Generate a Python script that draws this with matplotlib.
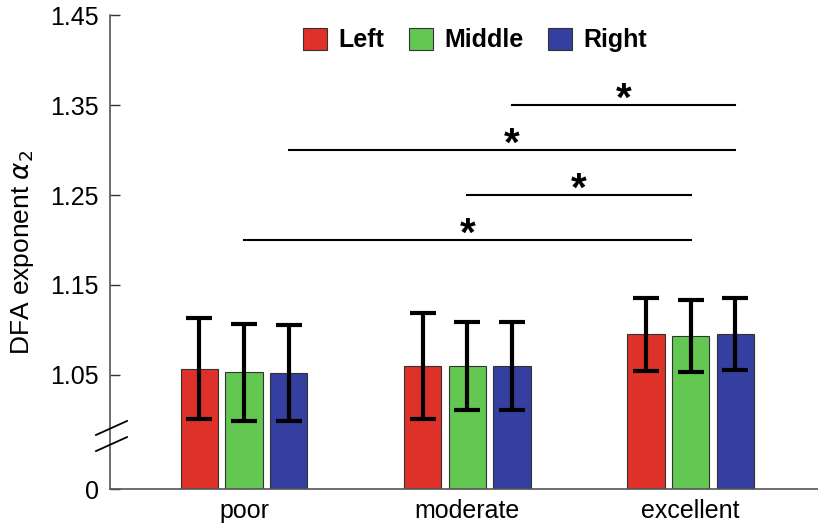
import numpy as np
import matplotlib.pyplot as plt

plt.rcParams['font.family'] = ['Liberation Sans', 'DejaVu Sans']

groups = ["poor", "moderate", "excellent"]
series = ["Left", "Middle", "Right"]
colors = ["#DE3129", "#62C851", "#343F9F"]

means = {
    "Left":   [1.057, 1.060, 1.095],
    "Middle": [1.053, 1.060, 1.093],
    "Right":  [1.052, 1.060, 1.095],
}
errs = {
    "Left":   [0.056, 0.059, 0.041],
    "Middle": [0.054, 0.049, 0.040],
    "Right":  [0.053, 0.049, 0.040],
}

# significance brackets: (group, series) -> (group, series), height
sig_pairs = [
    ((1, 2), (2, 2), 1.35),
    ((0, 2), (2, 2), 1.30),
    ((1, 1), (2, 1), 1.25),
    ((0, 1), (2, 1), 1.20),
]

y_bottom = 0.9233  # where the broken axis shows "0"
yticks = [1.05, 1.15, 1.25, 1.35, 1.45]

fig = plt.figure(figsize=(8.18, 5.29), dpi=100)
ax = fig.add_axes([0.1345, 0.0756, 0.8655, 0.896])

x = np.arange(1, len(groups) + 1)
width = 0.166
offsets = [-0.2, 0.0, 0.2]

for s, off, c in zip(series, offsets, colors):
    heights = np.array(means[s]) - y_bottom
    ax.bar(x + off, heights, width, bottom=y_bottom, color=c,
           edgecolor="#333333", linewidth=0.8, label=s, zorder=2)
    ax.errorbar(x + off, means[s], yerr=errs[s], fmt="none", ecolor="black",
                elinewidth=3, capsize=9.5, capthick=3, zorder=3)

for (g1, s1), (g2, s2), h in sig_pairs:
    x1 = x[g1] + offsets[s1]
    x2 = x[g2] + offsets[s2]
    ax.plot([x1, x2], [h, h], color="black", lw=1.5, zorder=3)
    ax.text((x1 + x2) / 2, h - 0.006, "*", ha="center", va="baseline",
            fontsize=29, fontweight="bold")

ax.set_xlim(0.4, 3.57)
ax.set_ylim(y_bottom, 1.45)
ax.set_xticks(x)
ax.set_xticklabels(groups, fontsize=18)
ax.set_yticks([y_bottom] + yticks)
ax.set_yticklabels(["0"] + [f"{t:.2f}" for t in yticks], fontsize=18)
ax.tick_params(axis="both", direction="in", length=7, width=1, color="#333333", pad=8)
ax.tick_params(axis="x", pad=7)

for side in ["top", "right"]:
    ax.spines[side].set_visible(False)
for side in ["left", "bottom"]:
    ax.spines[side].set_color("#555555")
    ax.spines[side].set_linewidth(1.2)

ax.set_ylabel(r"DFA exponent $\alpha_2$", fontsize=19, labelpad=10)

# axis break marks
for y0 in [0.080, 0.114]:
    ax.plot([-0.0198, 0.024], [y0, y0 + 0.0295], transform=ax.transAxes,
            color="black", lw=1.3, clip_on=False, zorder=4)

leg = ax.legend(loc="center", bbox_to_anchor=(0.5155, 0.947), ncol=3, frameon=False,
                prop={"weight": "bold", "size": 18}, handlelength=0.95,
                handleheight=0.95, handletextpad=0.45, columnspacing=1.0)

fig.savefig("out.png", dpi=100)
